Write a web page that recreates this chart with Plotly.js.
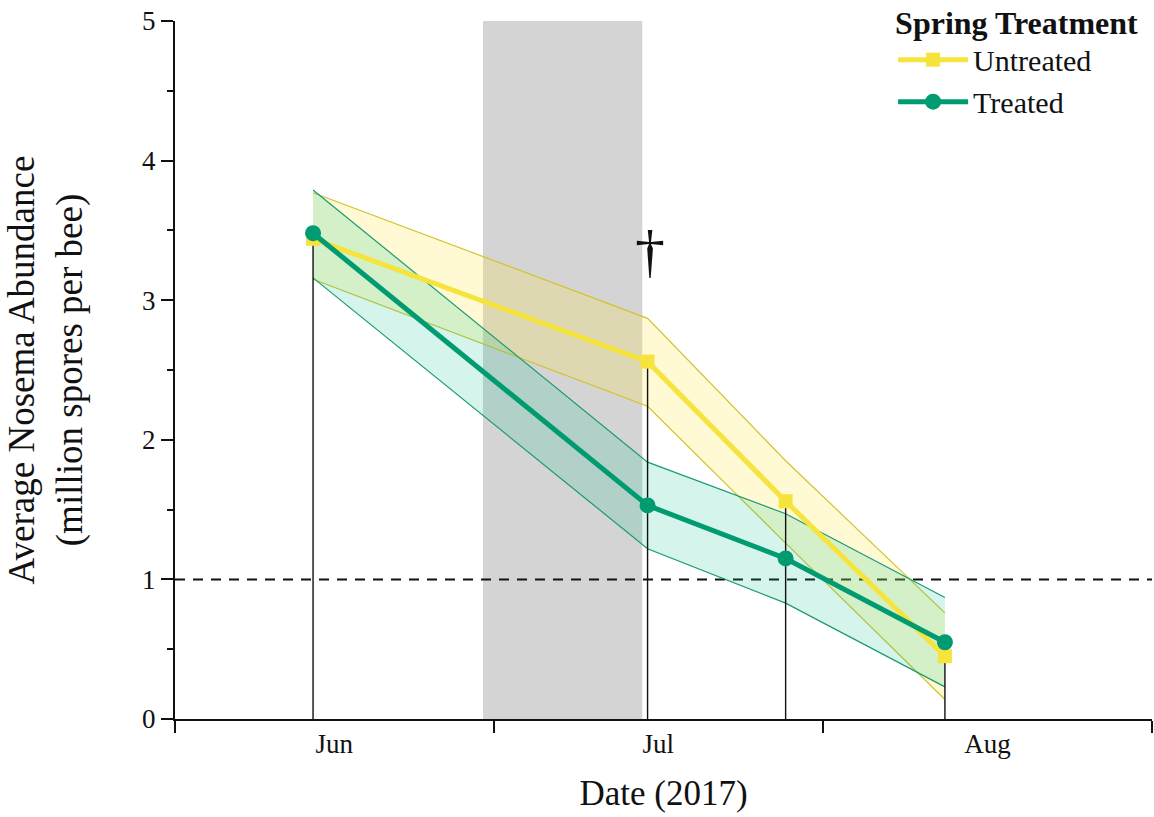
<!DOCTYPE html>
<html>
<head>
<meta charset="utf-8">
<script src="https://cdn.plot.ly/plotly-3.0.1.min.js"></script>
<style>html,body{margin:0;padding:0;background:#fff;}#chart{width:1154px;height:817px;}</style>
</head>
<body>
<div id="chart"></div>
<script>
// ---- data ----
const dates = ["2017-06-14", "2017-07-15 12:00", "2017-07-28 12:00", "2017-08-12 12:00"];
const untreatedMean = [3.44, 2.56, 1.56, 0.45];
const untreatedHi   = [3.77, 2.87, 1.85, 0.76];
const untreatedLo   = [3.15, 2.24, 1.26, 0.14];
const treatedMean   = [3.48, 1.53, 1.15, 0.55];
const treatedHi     = [3.79, 1.84, 1.47, 0.87];
const treatedLo     = [3.16, 1.22, 0.83, 0.23];
const shadedPeriod  = ["2017-06-30", "2017-07-15"];
const threshold     = 1;
const seriesNames   = ["Untreated", "Treated"];
const legendTitle   = "Spring Treatment";

const FONT = '"Liberation Serif", "Times New Roman", Times, serif';
const YEL = '#f6e33c', YEL_EDGE = '#d2c32c', YEL_FILL = 'rgba(255,232,60,0.22)';
const GRN = '#009b70', GRN_EDGE = '#1a9a72', GRN_FILL = 'rgba(0,190,145,0.17)';

// drop lines from axis to the higher mean at each date
const dropX = [], dropY = [];
dates.forEach((d, i) => {
  dropX.push(d, d, null);
  dropY.push(0, Math.max(untreatedMean[i], treatedMean[i]), null);
});

const traces = [
  {x: dates, y: untreatedLo, mode: 'lines', line: {color: YEL_EDGE, width: 1.2}, showlegend: false, hoverinfo: 'skip'},
  {x: dates, y: untreatedHi, mode: 'lines', fill: 'tonexty', fillcolor: YEL_FILL, line: {color: YEL_EDGE, width: 1.2}, showlegend: false, hoverinfo: 'skip'},
  {x: dates, y: treatedLo, mode: 'lines', line: {color: GRN_EDGE, width: 1.2}, showlegend: false, hoverinfo: 'skip'},
  {x: dates, y: treatedHi, mode: 'lines', fill: 'tonexty', fillcolor: GRN_FILL, line: {color: GRN_EDGE, width: 1.2}, showlegend: false, hoverinfo: 'skip'},
  {x: dropX, y: dropY, mode: 'lines', line: {color: '#111', width: 1.4}, showlegend: false, hoverinfo: 'skip'},
  {x: dates, y: untreatedMean, name: seriesNames[0], mode: 'lines+markers',
   line: {color: YEL, width: 5}, marker: {symbol: 'square', size: 14, color: YEL}},
  {x: dates, y: treatedMean, name: seriesNames[1], mode: 'lines+markers',
   line: {color: GRN, width: 5}, marker: {symbol: 'circle', size: 16, color: GRN}}
];

const layout = {
  width: 1154, height: 817,
  margin: {l: 175, r: 2, t: 21, b: 98, autoexpand: false},
  paper_bgcolor: '#fff', plot_bgcolor: '#fff',
  font: {family: FONT, color: '#111', size: 27},
  showlegend: true,
  legend: {
    x: 0.735, xanchor: 'left', y: 1.0415, yanchor: 'top', traceorder: 'normal',
    title: {text: '<b>' + legendTitle + '</b>', font: {size: 32, family: FONT}},
    font: {size: 30, family: FONT}, itemwidth: 70, tracegroupgap: 0,
    bgcolor: 'rgba(0,0,0,0)'
  },
  xaxis: {
    type: 'date', range: ['2017-06-01', '2017-09-01'],
    tick0: '2017-06-01', dtick: 'M1', tickformat: '%b', ticklabelmode: 'period',
    ticks: 'outside', ticklen: 12, tickwidth: 2, tickcolor: '#111',
    showline: true, linewidth: 2, linecolor: '#111', showgrid: false, zeroline: false,
    tickfont: {size: 27, family: FONT}, ticklabelstandoff: -12,
    title: {text: 'Date (2017)', font: {size: 35, family: FONT}, standoff: 22}
  },
  yaxis: {
    range: [0, 5], dtick: 1, ticks: 'outside', ticklen: 12, tickwidth: 2, tickcolor: '#111',
    minor: {dtick: 0.5, ticks: 'outside', ticklen: 6, tickwidth: 2, tickcolor: '#111'},
    showline: true, linewidth: 2, linecolor: '#111', showgrid: false, zeroline: false,
    tickfont: {size: 27, family: FONT},
    title: {text: 'Average Nosema Abundance<br>(million spores per bee)', font: {size: 37, family: FONT}, standoff: 48}
  },
  shapes: [
    {type: 'rect', layer: 'below', xref: 'x', yref: 'paper', x0: shadedPeriod[0], x1: shadedPeriod[1], y0: 0, y1: 1,
     fillcolor: '#d4d4d4', line: {width: 0}},
    {type: 'line', layer: 'below', xref: 'paper', yref: 'y', x0: 0, x1: 1, y0: threshold, y1: threshold,
     line: {color: '#111', width: 2, dash: '10px,8px'}}
  ],
  annotations: [
    {x: dates[1], y: untreatedHi[1], xref: 'x', yref: 'y', text: '†', showarrow: false,
     yanchor: 'bottom', yshift: 32, xshift: 2, font: {size: 60, family: FONT, color: '#111'}}
  ]
};

Plotly.newPlot('chart', traces, layout, {displayModeBar: false, staticPlot: true});
</script>
</body>
</html>
